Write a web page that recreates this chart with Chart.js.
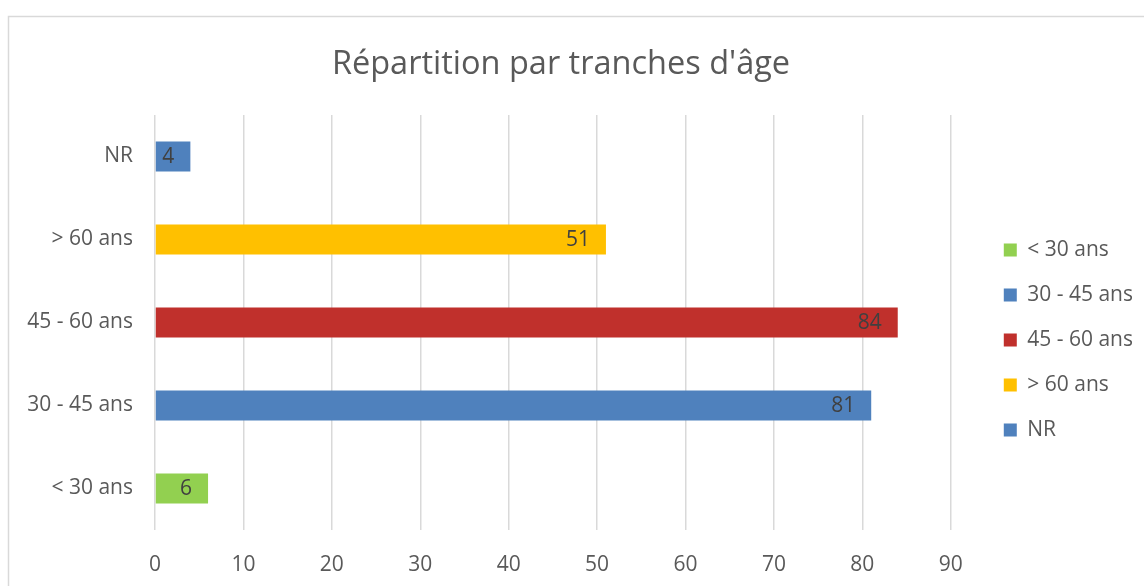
<!DOCTYPE html>
<html>
<head>
<meta charset="utf-8">
<script src="https://cdn.jsdelivr.net/npm/chart.js@4"></script>
<style>
  html, body { margin: 0; padding: 0; background: #fff; }
  #chart { display: block; }
</style>
</head>
<body>
<canvas id="chart" width="1144" height="586"></canvas>
<script>
const categories = ["< 30 ans", "30 - 45 ans", "45 - 60 ans", "> 60 ans", "NR"];
const counts = [6, 81, 84, 51, 4];
const barColors = ["#92D050", "#4F81BD", "#C0302C", "#FFC000", "#4F81BD"];
const xTicks = [0, 10, 20, 30, 40, 50, 60, 70, 80, 90];

const FONT = "'Open Sans', sans-serif";
const textGrey = "#595959";

// frame around the chart, like the spreadsheet chart border
const framePlugin = {
  id: "frame",
  beforeDraw(chart){
    const ctx = chart.ctx;
    ctx.save();
    ctx.fillStyle = "#fff";
    ctx.fillRect(0, 0, chart.width, chart.height);
    ctx.strokeStyle = "#d9d9d9";
    ctx.lineWidth = 1.5;
    ctx.strokeRect(8.5, 16.5, chart.width + 20, chart.height + 20);
    ctx.restore();
  }
};

// move the legend a bit right and down, away from the plot
const legendShift = {
  id: "legendShift",
  afterLayout(chart){
    const lg = chart.legend;
    lg.left += 29; lg.right += 29;
    lg.top += 45; lg.bottom += 45;
  }
};

// values written inside the end of each bar
const barLabels = {
  id: "barLabels",
  afterDatasetsDraw(chart){
    const ctx = chart.ctx;
    const meta = chart.getDatasetMeta(0);
    ctx.save();
    ctx.font = `21px ${FONT}`;
    ctx.fillStyle = "#404040";
    ctx.textAlign = "right";
    ctx.textBaseline = "middle";
    meta.data.forEach((bar, i) => {
      ctx.fillText(String(counts[i]), bar.x - 16, bar.y + 1);
    });
    ctx.restore();
  }
};

new Chart(document.getElementById("chart"), {
  type: "bar",
  data: {
    labels: categories,
    datasets: [{
      label: "Effectif",
      data: counts,
      backgroundColor: barColors,
      borderWidth: 0,
      categoryPercentage: 1,
      barPercentage: 0.36
    }]
  },
  options: {
    indexAxis: "y",
    responsive: false,
    animation: false,
    layout: { padding: { left: 8, top: 16, right: 30, bottom: 12 } },
    plugins: {
      title: {
        display: true,
        text: "Répartition par tranches d'âge",
        color: textGrey,
        font: { family: FONT, size: 32.5, weight: "normal" },
        padding: { top: 29, bottom: 31 }
      },
      legend: {
        position: "right",
        onClick: null,
        labels: {
          color: textGrey,
          font: { family: FONT, size: 21 },
          boxWidth: 13,
          boxHeight: 13,
          padding: 24,
          generateLabels(chart){
            return categories.map((c, i) => ({
              text: c,
              fillStyle: barColors[i],
              strokeStyle: barColors[i],
              lineWidth: 0,
              hidden: false,
              index: i,
              fontColor: textGrey
            }));
          }
        }
      },
      tooltip: { enabled: false }
    },
    scales: {
      x: {
        min: 0,
        max: 90,
        afterBuildTicks(scale){ scale.ticks = xTicks.map(v => ({ value: v })); },
        grid: { color: "#d9d9d9", lineWidth: 1.5, drawTicks: false },
        border: { display: false },
        ticks: { color: textGrey, font: { family: FONT, size: 21 }, padding: 22 },
        afterFit(scale){ scale.height = 44; }
      },
      y: {
        reverse: true,
        grid: { display: false, drawTicks: false },
        border: { display: false },
        ticks: { color: textGrey, font: { family: FONT, size: 21 }, padding: 22 },
        afterFit(scale){ scale.width = 147; }
      }
    }
  },
  plugins: [framePlugin, legendShift, barLabels]
});
</script>
</body>
</html>
